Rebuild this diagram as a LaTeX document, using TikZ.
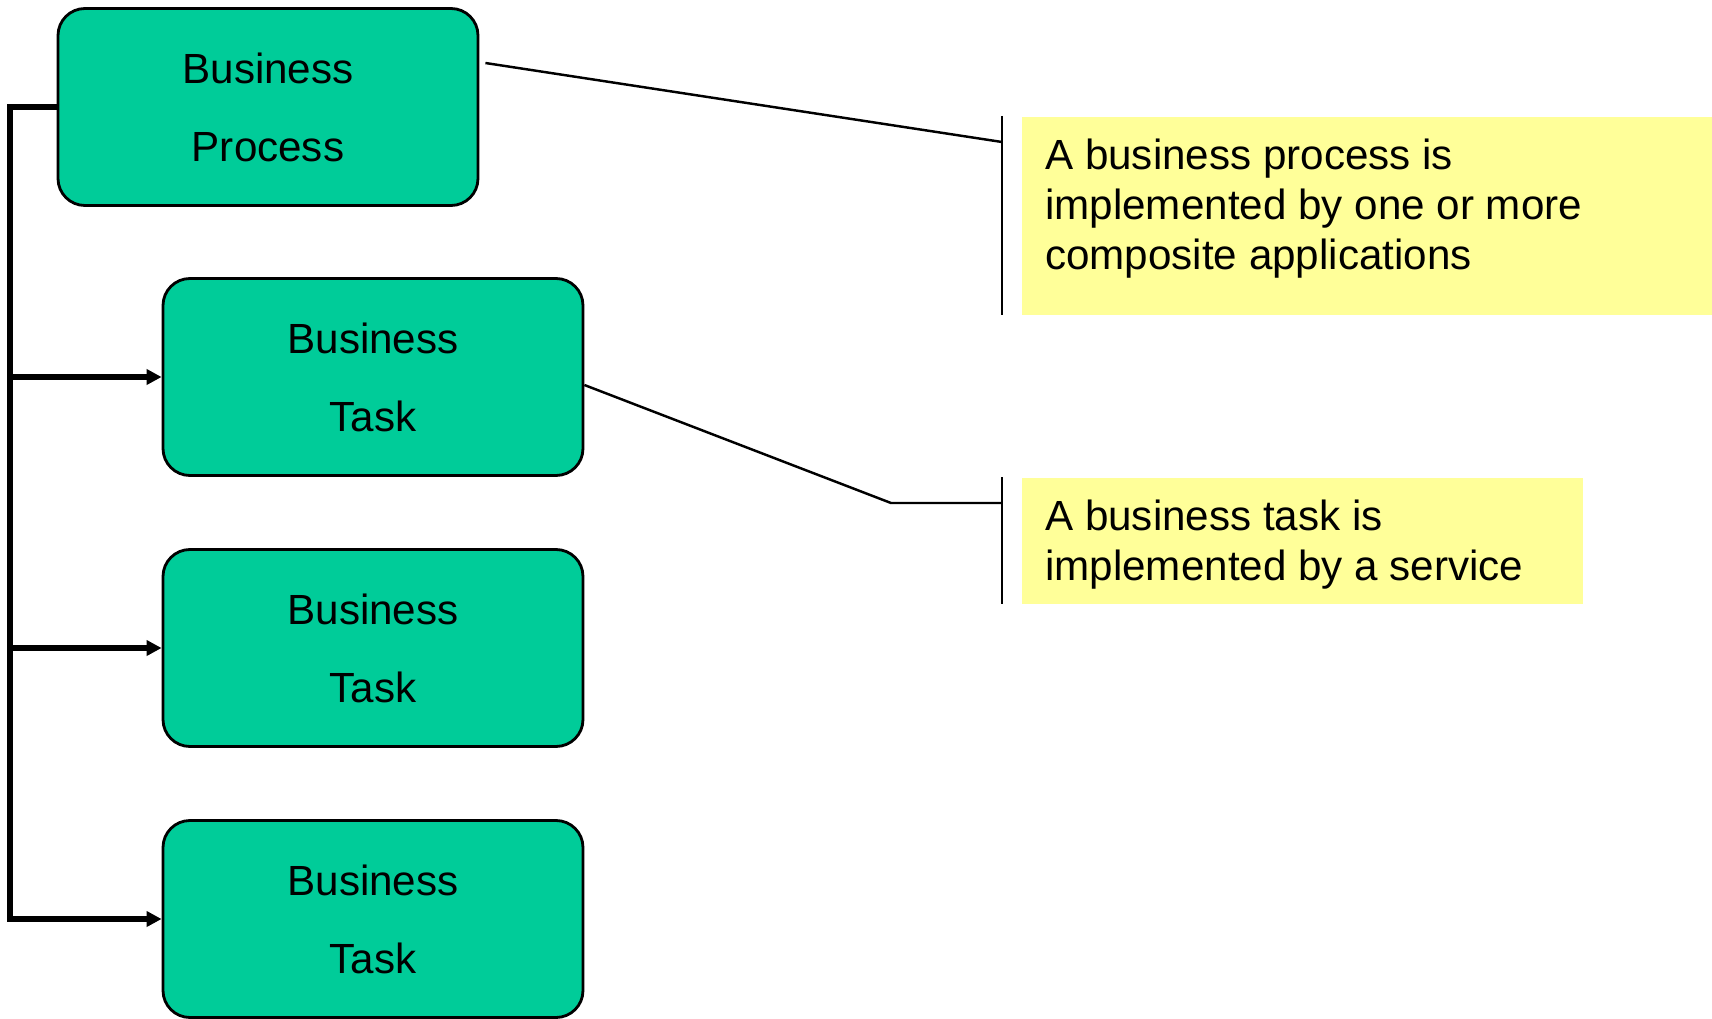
\documentclass[tikz,border=0pt]{standalone}
\usepackage{fontspec}
\setmainfont{Liberation Sans}
\usetikzlibrary{arrows.meta}
\definecolor{boxgreen}{HTML}{00CC99}
\definecolor{noteyellow}{HTML}{FFFF99}

\begin{document}
\begin{tikzpicture}[
    box/.style={draw=black, line width=0.8pt, fill=boxgreen, rounded corners=0.27cm,
        minimum width=4.2cm, minimum height=1.97cm, align=center,
        font=\fontsize{12}{22.2}\selectfont},
    note/.style={fill=noteyellow, anchor=north west, inner xsep=0.235cm, inner ysep=0.22cm,
        font=\fontsize{12}{14.3}\selectfont},
    rail/.style={line width=1.7pt},
    tip/.style={-{Triangle[length=0.15cm,width=0.15cm]}},
    leader/.style={line width=0.7pt}
    ]

    \useasboundingbox (0,0) rectangle (17.12,10.18);

    \node[box] (bp) at (2.68,9.11) {Business\\Process};
    \foreach \i/\y in {1/6.41,2/3.70,3/0.99}
        \node[box] (t\i) at (3.73,\y) {Business\\Task};

    \coordinate (r) at (0.10,0);
    \draw[rail,tip] (bp.west) -| (r |- t3.west) -- (t3.west);
    \foreach \i in {1,2} \draw[rail,tip] (r |- t\i.west) -- (t\i.west);

    \node[note] (n1) at (10.21,9.02) {\parbox[c][1.54cm][t]{6.44cm}{A business process is\\implemented by one or more\\composite applications}};
    \node[note] (n2) at (10.21,5.41) {\parbox[c][0.82cm][t]{5.14cm}{A business task is\\implemented by a service}};

    \foreach \n in {n1,n2} \draw[leader] ([xshift=-0.19cm]\n.north west) -- ([xshift=-0.19cm]\n.south west);

    \coordinate (e1) at ([xshift=-0.19cm,yshift=-0.26cm]n1.north west);
    \coordinate (e2) at ([xshift=-0.19cm,yshift=-0.26cm]n2.north west);
    \draw[leader] ([xshift=0.06cm,yshift=0.44cm]bp.east) -- (e1);
    \draw[leader] ([yshift=-0.08cm]t1.east) -- ([xshift=-1.11cm]e2) -- (e2);

\end{tikzpicture}
\end{document}
